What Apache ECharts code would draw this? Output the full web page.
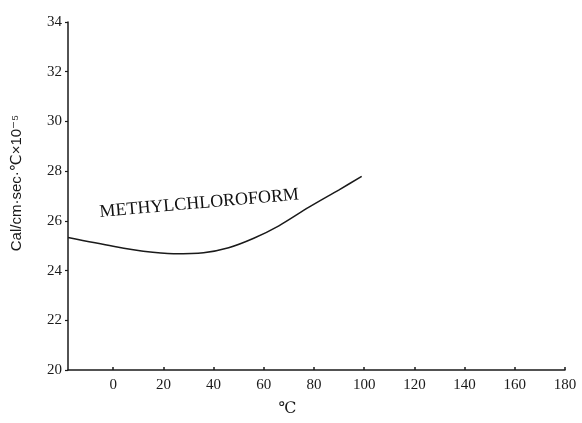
<!DOCTYPE html>
<html>
<head>
<meta charset="utf-8">
<script src="https://cdn.jsdelivr.net/npm/echarts@6/dist/echarts.min.js"></script>
<style>
html,body{margin:0;padding:0;background:#fff;}
#chart{width:582px;height:423px;}
</style>
</head>
<body>
<div id="chart"></div>
<script>
// Data
const temperatures = [-18, 0, 12, 24, 36, 46, 56, 66, 78, 90, 99];
const conductivity = [25.33, 24.98, 24.78, 24.68, 24.72, 24.92, 25.3, 25.8, 26.55, 27.25, 27.79];
const xTickValues = [0, 20, 40, 60, 80, 100, 120, 140, 160, 180];
const seriesName = 'METHYLCHLOROFORM';
const labelPosition = [34.3, 26.7];

const chart = echarts.init(document.getElementById('chart'), null, {renderer: 'canvas'});
const ink = '#1a1a1a';
const serif = '"Liberation Serif", "DejaVu Serif", serif';

chart.setOption({
  animation: false,
  backgroundColor: '#fff',
  grid: {left: 68, right: 17, top: 22, bottom: 53, containLabel: false},
  xAxis: {
    type: 'value',
    min: -18,
    max: 180,
    name: '℃',
    nameLocation: 'middle',
    nameGap: 31,
    nameTextStyle: {color: ink, fontFamily: serif, fontSize: 16, padding: [0, 58, 0, 0]},
    axisLine: {show: true, onZero: false, lineStyle: {color: ink, width: 1.5}},
    axisTick: {show: true, inside: true, length: 3, customValues: xTickValues, lineStyle: {color: ink, width: 1.5}},
    axisLabel: {show: true, customValues: xTickValues, margin: 8, color: ink, fontFamily: serif, fontSize: 15},
    splitLine: {show: false}
  },
  yAxis: {
    type: 'value',
    min: 20,
    max: 34,
    interval: 2,
    name: 'Cal/cm·sec·℃×10⁻⁵',
    nameLocation: 'middle',
    nameGap: 44,
    nameRotate: 90,
    nameTextStyle: {color: ink, fontFamily: '"Liberation Sans", "DejaVu Sans", sans-serif', fontSize: 15, padding: [0, 0, 0, 26]},
    axisLine: {show: true, onZero: false, lineStyle: {color: ink, width: 1.5}},
    axisTick: {show: true, inside: false, length: 3, lineStyle: {color: ink, width: 1.2}},
    axisLabel: {margin: 6, color: ink, fontFamily: serif, fontSize: 15},
    splitLine: {show: false}
  },
  series: [{
    name: seriesName,
    type: 'line',
    data: temperatures.map((t, i) => [t, conductivity[i]]),
    smooth: 0.3,
    showSymbol: false,
    lineStyle: {color: ink, width: 1.5}
  }, {
    name: 'label',
    type: 'scatter',
    data: [labelPosition],
    symbol: 'circle',
    symbolSize: 0,
    itemStyle: {color: ink, opacity: 1},
    silent: true,
    label: {
      show: true,
      formatter: seriesName,
      rotate: 5,
      position: 'inside',
      color: '#111',
      opacity: 1,
      fontFamily: serif,
      fontSize: 18
    }
  }]
});
</script>
</body>
</html>
